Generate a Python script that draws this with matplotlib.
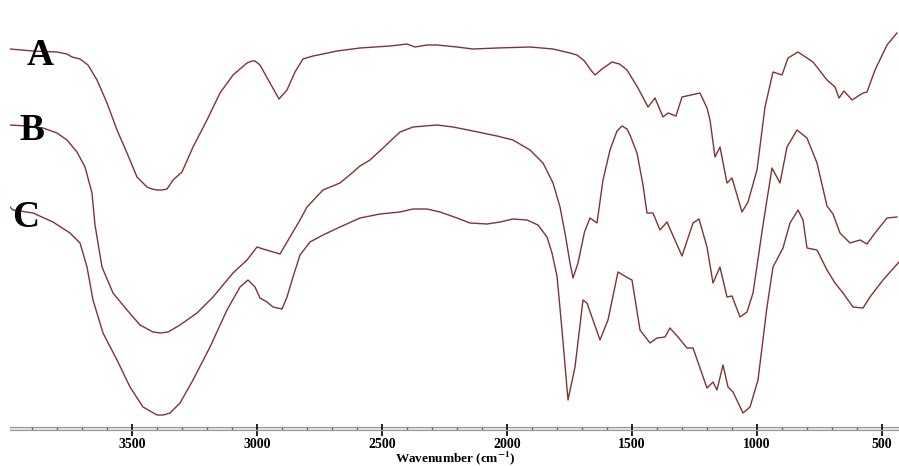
import numpy as np
import matplotlib
matplotlib.use('Agg')
from matplotlib import pyplot as plt

# FTIR spectra, wavenumber (cm-1) and transmittance (a.u.)
wn_a = [3988, 3896, 3800, 3760, 3740, 3708, 3676, 3640, 3600, 3560, 3520, 3480,
        3440, 3420, 3400, 3380, 3360, 3336, 3300, 3256, 3200, 3148, 3096, 3040,
        3020, 3008, 2988, 2948, 2912, 2880, 2848, 2816, 2776, 2736, 2680, 2588,
        2468, 2400, 2368, 2320, 2280, 2200, 2136, 2040, 1908, 1816, 1748, 1720,
        1690, 1665, 1648, 1620, 1580, 1550, 1520, 1476, 1436, 1408, 1376, 1356,
        1324, 1300, 1228, 1200, 1188, 1168, 1148, 1120, 1100, 1060, 1036, 1000,
        968, 936, 900, 876, 836, 776, 720, 688, 672, 652, 620, 576, 560, 528,
        480, 440]
t_a = [378, 376, 375, 373, 370, 368, 362, 347, 324, 297, 274, 250,
       240, 238, 237, 237, 238, 247, 255, 280, 307, 334, 352, 364,
       366, 366, 362, 344, 328, 337, 355, 368, 371, 373, 376, 379,
       381, 383, 380, 382, 382, 380, 378, 379, 380, 378, 374, 372,
       366, 357, 352, 358, 365, 363, 357, 339, 320, 329, 310, 314,
       311, 330, 334, 319, 307, 270, 280, 244, 249, 215, 225, 257,
       320, 355, 352, 369, 375, 365, 347, 340, 329, 336, 327, 334, 335, 357,
       382, 394]

wn_b = [3988, 3920, 3856, 3800, 3760, 3720, 3688, 3660, 3648, 3620, 3576, 3520,
        3468, 3416, 3386, 3356, 3308, 3240, 3176, 3096, 3040, 3000, 2976, 2908,
        2868, 2828, 2800, 2736, 2668, 2620, 2588, 2548, 2496, 2428, 2376, 2280,
        2216, 2136, 2040, 1976, 1908, 1856, 1816, 1788, 1768, 1748, 1736, 1716,
        1690, 1668, 1640, 1616, 1588, 1560, 1540, 1520, 1508, 1480, 1456, 1440,
        1416, 1388, 1360, 1300, 1256, 1232, 1200, 1176, 1148, 1120, 1100, 1068,
        1040, 1016, 976, 940, 908, 880, 840, 800, 760, 720, 696, 668, 628, 588,
        560, 528, 480, 440]
t_b = [302, 301, 299, 294, 287, 275, 260, 234, 202, 160, 134, 117,
       102, 95, 94, 95, 102, 114, 130, 154, 167, 180, 178, 173,
       190, 207, 220, 237, 244, 254, 261, 267, 279, 295, 300, 302,
       300, 296, 291, 287, 277, 264, 244, 220, 194, 164, 149, 164,
       195, 209, 204, 247, 277, 296, 301, 298, 292, 274, 242, 214,
       214, 197, 205, 171, 204, 208, 180, 144, 160, 130, 131, 110,
       115, 134, 202, 259, 244, 280, 297, 289, 264, 221, 213, 194, 184, 187,
       183, 194, 209, 210]

wn_c = [3988, 3976, 3896, 3816, 3748, 3708, 3680, 3656, 3616, 3560, 3508, 3456,
        3400, 3374, 3348, 3308, 3256, 3188, 3120, 3068, 3036, 3008, 2988, 2960,
        2936, 2900, 2880, 2856, 2828, 2788, 2736, 2668, 2588, 2508, 2428, 2376,
        2320, 2268, 2200, 2148, 2080, 2028, 1976, 1920, 1876, 1840, 1820, 1800,
        1780, 1756, 1728, 1696, 1680, 1628, 1596, 1556, 1516, 1500, 1468, 1428,
        1400, 1368, 1348, 1316, 1280, 1256, 1228, 1200, 1176, 1160, 1136, 1116,
        1096, 1056, 1028, 996, 960, 936, 896, 868, 836, 816, 800, 760, 720, 688,
        656, 616, 576, 548, 496, 432]
t_c = [220, 217, 214, 205, 194, 184, 160, 127, 94, 67, 40, 20,
       12, 12, 14, 24, 47, 80, 117, 140, 147, 140, 129, 125,
       120, 118, 130, 150, 172, 185, 192, 200, 209, 213, 215, 218,
       218, 215, 209, 204, 203, 205, 208, 207, 202, 190, 174, 151,
       97, 27, 60, 127, 124, 87, 107, 155, 149, 147, 97, 84,
       89, 90, 99, 90, 79, 79, 59, 39, 45, 37, 62, 40,
       35, 14, 20, 47, 120, 160, 179, 204, 217, 207, 179, 177, 157, 144,
       134, 120, 119, 130, 147, 165]

labels = ['A', 'B', 'C']
label_pos = [(3868, 362), (3900, 287), (3924, 200)]

plt.rcParams['mathtext.fontset'] = 'stix'
fig = plt.figure(figsize=(8.99, 4.66), dpi=100)
ax = fig.add_axes([10/899, 1 - 430/466, 889/899, 430/466])

line_color = '#7e3434'
for wn, t in [(wn_a, t_a), (wn_b, t_b), (wn_c, t_c)]:
    ax.plot(wn, t, color=line_color, lw=1.0, solid_joinstyle='round')

for lab, (x, y) in zip(labels, label_pos):
    ax.text(x, y, lab, fontsize=27, fontweight='bold', family='Liberation Serif',
            ha='center', va='baseline', color='black')

ax.set_xlim(3988, 432)
ax.set_ylim(-3, 427)

# axis drawn as a thin grey double line
for s in ['top', 'right', 'left']:
    ax.spines[s].set_visible(False)
ax.spines['bottom'].set_color('#9a9a9a')
ax.spines['bottom'].set_linewidth(0.9)
ax.axhspan(-3, 0, color='#e8e8e8', lw=0, zorder=0)
ax.axhline(0, color='#9a9a9a', lw=0.9, zorder=1)

ax.set_yticks([])
ax.set_xticks([3500, 3000, 2500, 2000, 1500, 1000, 500])
ax.set_xticks(np.arange(3900, 450, -100), minor=True)
ax.tick_params(axis='x', which='major', direction='inout', length=9, width=1.4,
               color='#222222', pad=1)
ax.tick_params(axis='x', which='minor', direction='in', length=2, width=1,
               color='#666666')
for lbl in ax.get_xticklabels():
    lbl.set_family('Liberation Serif')
    lbl.set_fontweight('bold')
    lbl.set_fontsize(10)

fig.text(455/899, 1 - 458.5/466, r'Wavenumber (cm$^{\mathbf{-1}}$)', ha='center', va='center',
         fontsize=9.5, fontweight='bold', family='Liberation Serif')

fig.savefig('out.png', dpi=100)
